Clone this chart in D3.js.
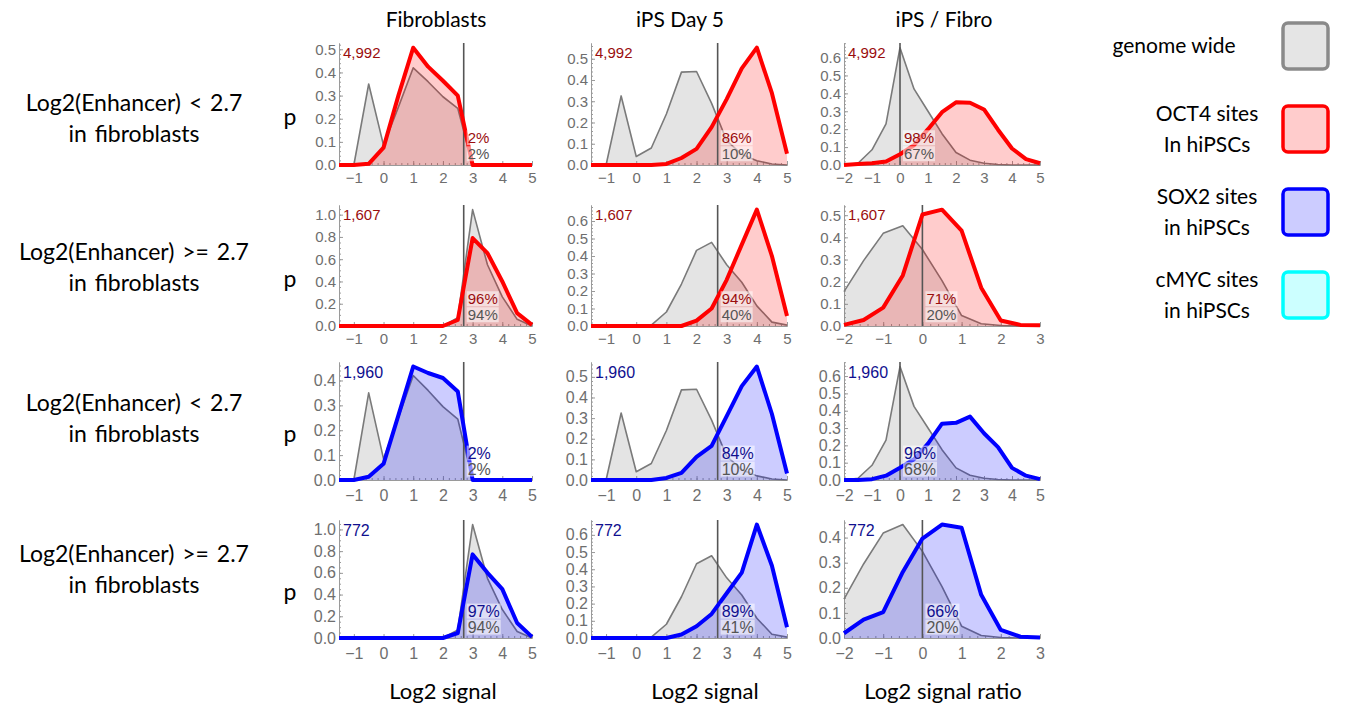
<!DOCTYPE html>
<html><head><meta charset="utf-8">
<script src="https://cdn.jsdelivr.net/npm/d3@7"></script>
<style>body{margin:0;background:#fff;} svg{display:block;}</style>
</head><body>
<svg id="chart" width="1356" height="710"></svg>
<script>
// ---- bins (x values of the histogram points) ----
const binsSignal      = [-1.5,-1,-0.5,0,0.5,1,1.5,2,2.5,3,3.5,4,4.5,5];
const binsRatioWide   = [-2,-1.5,-1,-0.5,0,0.5,1,1.5,2,2.5,3,3.5,4,4.5,5];
const binsRatioNarrow = [-2,-1.5,-1,-0.5,0,0.5,1,1.5,2,2.5,3];

// ---- labels ----
const columnTitles = ["Fibroblasts", "iPS Day 5", "iPS / Fibro"];
const columnAxisTitles = ["Log2 signal", "Log2 signal", "Log2 signal ratio"];
const rowTitles = [
  ["Log2(Enhancer) < 2.7", "in fibroblasts"],
  ["Log2(Enhancer) >= 2.7", "in fibroblasts"],
  ["Log2(Enhancer) < 2.7", "in fibroblasts"],
  ["Log2(Enhancer) >= 2.7", "in fibroblasts"]
];
const siteCounts = ["4,992", "1,607", "1,960", "772"];
const thresholds = [2.7, 2.7, 0];
const legendItems = [
  ["genome wide"], ["OCT4 sites", "In hiPSCs"], ["SOX2 sites", "in hiPSCs"], ["cMYC sites", "in hiPSCs"]
];

// ---- genome wide distributions ----
const gwLowFibro  = [0,0,0.35,0.085,0.25,0.42,0.36,0.295,0.245,0,0,0,0,0];
const gwLowIPS    = [0,0,0.325,0.04,0.08,0.24,0.437,0.44,0.29,0.115,0.05,0.02,0.005,0];
const gwLowRatio  = [0,0.01,0.085,0.23,0.655,0.425,0.3,0.175,0.07,0.027,0.01,0.003,0,0,0];
const gwHighFibro = [0,0,0,0,0,0,0,0,0.075,1.045,0.55,0.262,0.06,0];
const gwHighIPS   = [0,0,0,0,0.005,0.08,0.24,0.432,0.478,0.35,0.25,0.115,0.022,0.005];
const gwHighRatio = [0.155,0.295,0.418,0.452,0.345,0.205,0.047,0.01,0.002,0,0];

// ---- OCT4 sites in hiPSCs ----
const oct4LowFibro  = [0,0,0.005,0.075,0.3,0.507,0.425,0.364,0.3,0,0,0,0,0];
const oct4LowIPS    = [0,0,0,0,0,0.005,0.033,0.076,0.178,0.31,0.455,0.552,0.338,0.053];
const oct4LowRatio  = [0,0.005,0.01,0.02,0.06,0.11,0.2,0.295,0.35,0.348,0.31,0.197,0.092,0.033,0.01];
const oct4HighFibro = [0,0,0,0,0,0,0,0,0.054,0.79,0.655,0.4,0.115,0.01];
const oct4HighIPS   = [0,0,0,0,0,0,0,0.031,0.1,0.264,0.465,0.665,0.4,0.057];
const oct4HighRatio = [0.005,0.027,0.083,0.228,0.503,0.525,0.43,0.173,0.025,0.005,0.003];

// ---- SOX2 sites in hiPSCs ----
const sox2LowFibro  = [0,0,0.013,0.065,0.26,0.456,0.43,0.41,0.356,0,0,0,0,0];
const sox2LowIPS    = [0,0,0,0,0,0.01,0.035,0.112,0.165,0.31,0.455,0.55,0.32,0.032];
const sox2LowRatio  = [0,0,0.005,0.025,0.071,0.12,0.21,0.325,0.33,0.366,0.27,0.19,0.07,0.025,0.005];
const sox2HighFibro = [0,0,0,0,0,0,0,0,0.046,0.77,0.6,0.45,0.138,0.01];
const sox2HighIPS   = [0,0,0,0,0,0,0.02,0.068,0.14,0.26,0.38,0.66,0.42,0.062];
const sox2HighRatio = [0.019,0.073,0.103,0.263,0.396,0.452,0.439,0.172,0.032,0.005,0.002];

// ---- percentage of each distribution above the threshold ----
const pctSites  = [["2%","86%","98%"], ["96%","94%","71%"], ["2%","84%","96%"], ["97%","89%","66%"]];
const pctGenome = [["2%","10%","67%"], ["94%","40%","20%"], ["2%","10%","68%"], ["94%","41%","20%"]];

// ---- panel grid ----
const rowsData = [
  { factor: "oct4", genome: [gwLowFibro, gwLowIPS, gwLowRatio],   sites: [oct4LowFibro, oct4LowIPS, oct4LowRatio],   bins: [binsSignal, binsSignal, binsRatioWide] },
  { factor: "oct4", genome: [gwHighFibro, gwHighIPS, gwHighRatio], sites: [oct4HighFibro, oct4HighIPS, oct4HighRatio], bins: [binsSignal, binsSignal, binsRatioNarrow] },
  { factor: "sox2", genome: [gwLowFibro, gwLowIPS, gwLowRatio],   sites: [sox2LowFibro, sox2LowIPS, sox2LowRatio],   bins: [binsSignal, binsSignal, binsRatioWide] },
  { factor: "sox2", genome: [gwHighFibro, gwHighIPS, gwHighRatio], sites: [sox2HighFibro, sox2HighIPS, sox2HighRatio], bins: [binsSignal, binsSignal, binsRatioNarrow] }
];

// layout
const colX = [[339, 532], [591, 787], [844, 1040]];
const rowY = [[43, 165], [205, 326], [362, 480], [520, 638]];
const rowFont = [15, 15, 16, 16];
const rowXPad = [7, 7, 9.5, 9.5];
const rowTitleY = [103, 252, 403, 554];

const style = {
  oct4: { line: "#ff0000", fill: "rgba(255,0,0,0.2)", text: "#9a0d0d" },
  sox2: { line: "#0000ff", fill: "rgba(0,0,255,0.2)", text: "#10108f" }
};

const svg = d3.select("#chart");
const sans = "'Liberation Sans', Arial, sans-serif";
const labelFont = "Lato, 'Open Sans', sans-serif";

rowsData.forEach((row, r) => {
  const [yt, yb] = rowY[r];
  const fs = rowFont[r];
  for (let c = 0; c < 3; c++) {
    const [x0, x1] = colX[c];
    const bins = row.bins[c];
    const gw = row.genome[c], st = row.sites[c];
    const x = d3.scaleLinear().domain([bins[0], bins[bins.length - 1]]).range([x0, x1]);
    const yMax = d3.max(gw.concat(st)) * 1.04;
    const y = d3.scaleLinear().domain([0, yMax]).range([yb, yt]);
    const g = svg.append("g");

    const pts = arr => arr.map((v, i) => [bins[i], v]);
    const area = d3.area().x(d => x(d[0])).y0(y(0)).y1(d => y(d[1]));
    const line = d3.line().x(d => x(d[0])).y(d => y(d[1]));

    // axes with inward major and minor ticks
    const yStep = yMax > 0.8 ? 0.2 : 0.1;
    const yTicks = d3.range(0, yMax + 1e-9, yStep);
    const yMinor = d3.range(0, yMax + 1e-9, yStep / (yStep > 0.15 ? 4 : 5));
    const xTicks = d3.range(Math.ceil(bins[0]), bins[bins.length - 1] + 1e-9, 1);
    const xMinor = d3.range(Math.ceil(bins[0] * 5) / 5, bins[bins.length - 1] + 1e-9, 0.2);

    g.append("g").attr("transform", `translate(0,${yb})`)
      .call(d3.axisBottom(x).tickValues(xMinor).tickSizeInner(-2).tickSizeOuter(0).tickFormat(""));
    g.append("g").attr("transform", `translate(0,${yb})`)
      .call(d3.axisBottom(x).tickValues(xTicks).tickSizeInner(-4).tickSizeOuter(0).tickPadding(rowXPad[r])
        .tickFormat(d3.format("d")));
    g.append("g").attr("transform", `translate(${x0},0)`)
      .call(d3.axisLeft(y).tickValues(yMinor).tickSizeInner(-2).tickSizeOuter(0).tickFormat(""));
    g.append("g").attr("transform", `translate(${x0},0)`)
      .call(d3.axisLeft(y).tickValues(yTicks).tickSizeInner(-4).tickSizeOuter(0).tickPadding(3)
        .tickFormat(d3.format(".1f")));
    g.selectAll(".domain, .tick line").attr("stroke", "#9a9a9a");
    g.selectAll(".tick text").attr("fill", "#6e6e6e").style("font-family", sans).style("font-size", fs + "px");

    // genome wide
    g.append("path").datum(pts(gw)).attr("d", area).attr("fill", "rgba(120,120,120,0.2)");
    g.append("path").datum(pts(gw)).attr("d", line).attr("fill", "none")
      .attr("stroke", "#7a7a7a").attr("stroke-width", 1.6).attr("stroke-linejoin", "round");
    // sites
    const sty = style[row.factor];
    g.append("path").datum(pts(st)).attr("d", area).attr("fill", sty.fill);
    // threshold line
    g.append("line").attr("x1", x(thresholds[c])).attr("x2", x(thresholds[c]))
      .attr("y1", yb).attr("y2", yt).attr("stroke", "#555").attr("stroke-width", 1.6);
    g.append("path").datum(pts(st)).attr("d", line).attr("fill", "none")
      .attr("stroke", sty.line).attr("stroke-width", 4).attr("stroke-linejoin", "round");

    // count label
    g.append("text").attr("x", x0 + 4).attr("y", yt + 10).attr("dy", "0.35em")
      .attr("fill", sty.text).style("font-family", sans).style("font-size", fs + "px")
      .text(siteCounts[r]);

    // percentage labels
    const px = x(thresholds[c]) + 4;
    [[pctSites[r][c], yb - 27, sty.text], [pctGenome[r][c], yb - 11, "#555"]].forEach(([t, cy, col]) => {
      const txt = g.append("text").attr("x", px).attr("y", cy).attr("dy", "0.35em")
        .attr("fill", col).style("font-family", sans).style("font-size", fs + "px").text(t);
      const bb = txt.node().getBBox();
      g.insert("rect", () => txt.node()).attr("x", bb.x - 1).attr("y", bb.y + 1)
        .attr("width", bb.width + 2).attr("height", bb.height - 2)
        .attr("fill", "#fff").attr("opacity", 0.55);
    });
  }
  // "p" label
  svg.append("text").attr("x", 290).attr("y", (yt + yb) / 2 + 13).attr("dy", "0.35em")
    .attr("text-anchor", "middle").style("font-family", labelFont).style("font-size", "23px").text("p");
  // row title
  rowTitles[r].forEach((t, i) => {
    svg.append("text").attr("x", 134).attr("y", rowTitleY[r] + i * 31).attr("dy", "0.35em")
      .attr("text-anchor", "middle").style("font-family", labelFont).style("font-size", "23px")
      .style("word-spacing", "2px").text(t);
  });
});

// column titles and axis titles
const columnTitleX = [436, 680, 944];
const axisTitleX = [443, 705, 943];
columnTitles.forEach((t, c) => {
  svg.append("text").attr("x", columnTitleX[c]).attr("y", 20).attr("dy", "0.35em")
    .attr("text-anchor", "middle").style("font-family", labelFont).style("font-size", "21px").text(t);
  svg.append("text").attr("x", axisTitleX[c]).attr("y", 691).attr("dy", "0.35em")
    .attr("text-anchor", "middle").style("font-family", labelFont).style("font-size", "22px").text(columnAxisTitles[c]);
});

// legend
const legendStyles = [
  { fill: "#e5e5e5", stroke: "#8a8a8a" },
  { fill: "#ffcccc", stroke: "#ff0000" },
  { fill: "#ccccff", stroke: "#0000ff" },
  { fill: "#ccffff", stroke: "#00ffff" }
];
legendItems.forEach((lines, i) => {
  const cy = 46 + i * 83;
  svg.append("rect").attr("x", 1283).attr("y", cy - 23).attr("width", 45).attr("height", 46)
    .attr("rx", 5).attr("fill", legendStyles[i].fill).attr("stroke", legendStyles[i].stroke).attr("stroke-width", 3.5);
  lines.forEach((t, j) => {
    svg.append("text").attr("x", lines.length > 1 ? 1207 : 1174)
      .attr("y", cy + (lines.length > 1 ? (j - 0.5) * 31 : 0)).attr("dy", "0.35em")
      .attr("text-anchor", "middle").style("font-family", labelFont).style("font-size", "21px").text(t);
  });
});
</script>
</body></html>
